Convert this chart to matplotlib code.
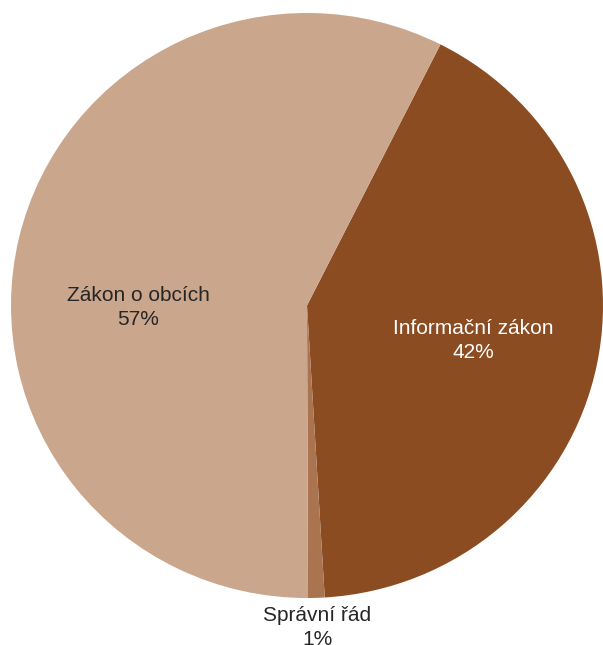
import matplotlib.pyplot as plt

# slice data (clockwise from the top-right boundary)
labels = ["Informační zákon", "Správní řád", "Zákon o obcích"]
values = [41.6, 0.9, 57.5]
pcts = ["42%", "1%", "57%"]
colors = ["#8B4C22", "#A9744F", "#CAA68C"]
text_colors = ["white", "#262626", "#262626"]
# label anchor positions in pie units (radius = 1)
label_xy = [(0.5625, -0.121), (0.034, -1.101), (-0.571, -0.007)]

plt.rcParams["font.family"] = ["Liberation Sans", "DejaVu Sans"]

fig = plt.figure(figsize=(6.03, 6.45), dpi=100)
ax = fig.add_axes([0, 0, 1, 1])

ax.pie(values, colors=colors, startangle=63.2, counterclock=False,
       radius=1.0, center=(0, 0), wedgeprops=dict(linewidth=0))

for lab, p, c, (x, y) in zip(labels, pcts, text_colors, label_xy):
    ax.text(x, y, f"{lab}\n{p}", ha="center", va="center", fontsize=15,
            color=c, linespacing=1.33)

# pie is slightly wider than tall in the reference
ax.set_xlim(-307 / 296, 296 / 296)
ax.set_ylim(-339.5 / 292.5, 305.5 / 292.5)
ax.set_aspect("auto")
ax.axis("off")

fig.savefig("out.png", dpi=100)
